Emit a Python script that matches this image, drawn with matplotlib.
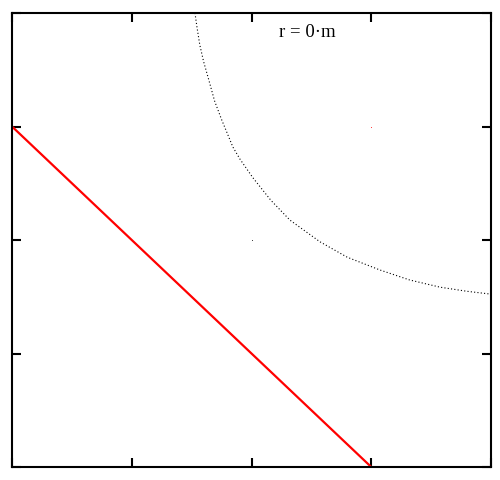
import matplotlib
matplotlib.use("Agg")
import matplotlib.pyplot as plt

# red straight line
line_x = [0.0, 0.75]
line_y = [0.75, 0.0]

# dotted curve points
curve_x = [0.382, 0.386, 0.392, 0.400, 0.411, 0.423, 0.438, 0.449, 0.461, 0.476, 0.503,
           0.540, 0.580, 0.643, 0.700, 0.768, 0.830, 0.894, 0.950, 0.998]
curve_y = [1.000, 0.970, 0.930, 0.893, 0.852, 0.806, 0.764, 0.736, 0.705, 0.678, 0.637,
           0.588, 0.544, 0.496, 0.462, 0.434, 0.412, 0.396, 0.387, 0.381]

# stray single points
red_pt = (0.75, 0.75)
black_pt = (0.5, 0.5)

label = "r = 0·m"
ticks = [0.0, 0.25, 0.5, 0.75, 1.0]

fig = plt.figure(figsize=(5.0, 4.8), dpi=100)
ax = fig.add_axes([12/500, 13/480, 479/500, 454/480])
ax.plot(line_x, line_y, color="red", lw=1.6)
ax.plot(curve_x, curve_y, color="black", lw=0.8, linestyle=(0, (1, 2)))
ax.plot([red_pt[0]], [red_pt[1]], marker="s", ms=0.5, mew=0, color="red", lw=0)
ax.plot([black_pt[0]], [black_pt[1]], marker="s", ms=0.5, mew=0, color="black", lw=0)
ax.set_xlim(0, 1)
ax.set_ylim(0, 1)
ax.set_xticks(ticks)
ax.set_yticks(ticks)
ax.tick_params(direction="in", length=6.5, width=1.5, top=True, right=True,
               labelleft=False, labelbottom=False)
for s in ax.spines.values():
    s.set_linewidth(1.5)
ax.text(0.617, 0.956, label, family="Liberation Serif", fontsize=13.5,
        ha="center", va="center")
fig.savefig("out.png", dpi=100)
